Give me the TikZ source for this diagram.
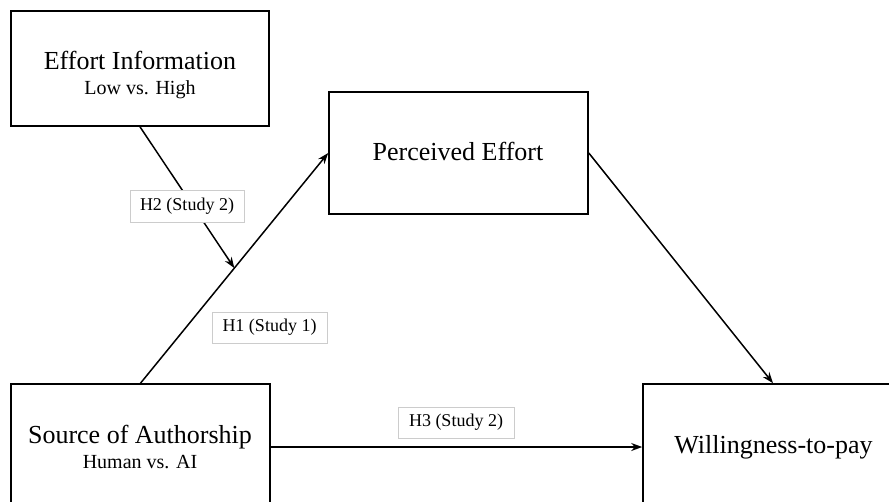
\documentclass[tikz,border=0pt]{standalone}
\usepackage{fontspec}
\setmainfont{Liberation Serif}
\usetikzlibrary{arrows.meta,calc}
\tikzset{
  box/.style={draw, line width=1.6pt, fill=white, inner sep=0pt},
  bigtext/.style={font=\fontsize{26}{30}\selectfont, inner sep=0pt, anchor=base},
  subtext/.style={font=\fontsize{20}{24}\selectfont, inner sep=0pt, anchor=base},
  tag/.style={draw=black!20, line width=0.7pt, fill=white, inner sep=0pt,
              minimum width=115pt, minimum height=31pt,
              font=\fontsize{18}{20}\selectfont},
  link/.style={line width=1.5pt, -{Stealth[length=11pt,width=8pt]}}
}
\begin{document}
\begin{tikzpicture}[x=1pt,y=-1pt]
  \useasboundingbox (0,0) rectangle (889,501);
  \clip (0,0) rectangle (889,501);

  % construct boxes
  \node[box, minimum width=258pt, minimum height=115pt] (ei)  at (140,68.5)  {};
  \node[box, minimum width=259pt, minimum height=122pt] (pe)  at (458.5,153) {};
  \node[box, minimum width=259pt, minimum height=126pt] (src) at (140.5,447) {};
  \node[box, minimum width=260pt, minimum height=126pt] (wtp) at (773,447)   {};

  % box texts
  \node[bigtext] (eiA) at (140,69)  {Effort Information};
  \node[subtext] (eiB) at (140,94)  {Low vs. High};
  \node[bigtext] (peA) at (458,160) {Perceived Effort};
  \node[bigtext] (srcA) at (140,443) {Source of Authorship};
  \node[subtext] (srcB) at (140,468) {Human vs. AI};
  \node[bigtext] (wtpA) at (773.5,453) {Willingness-to-pay};

  % paths
  \draw[link] (src.north) -- coordinate[pos=0.5] (mod) (pe.west);
  \draw[link] (pe.east) -- (wtp.north);
  \draw[link] (src.east) -- (wtp.west);
  \draw[link] (ei.south) -- (mod);

  % hypothesis tags
  \node[tag, minimum width=114pt, minimum height=32pt] (h2) at (187,206) {H2 (Study\ 2)};
  \node[tag] (h1) at (269.5,327.5) {H1 (Study\ 1)};
  \node[tag, minimum width=116pt] (h3) at (456,422.5) {H3 (Study\ 2)};
\end{tikzpicture}
\end{document}
